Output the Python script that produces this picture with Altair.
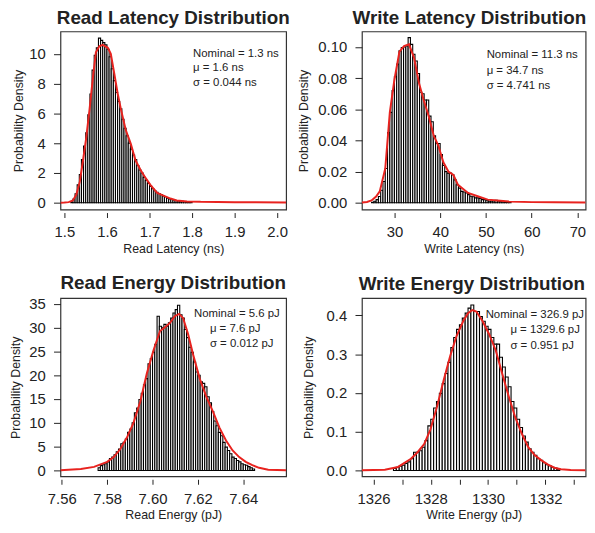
import altair as alt
import pandas as pd

FONT = "Liberation Sans"
INK = "#222222"
RED = "#e8231f"

# ---------------- data ----------------
# Read latency histogram (bin width 0.005 ns, first bin starts 1.515)
rl_start, rl_width = 1.515, 0.005
rl_heights = [0.05, 0.25, 0.6, 1.2, 1.9, 2.9, 3.8, 4.7, 5.9, 7.3, 8.9, 9.9, 10.4, 11.05,
              10.9, 10.75, 10.6, 10.3, 9.8, 9.0, 8.2, 7.4, 6.8, 6.3, 5.6, 5.0, 4.5, 4.0,
              3.6, 3.2, 2.9, 2.5, 2.2, 2.0, 1.7, 1.5, 1.3, 1.1, 0.95, 0.8, 0.7, 0.62,
              0.55, 0.45, 0.4, 0.3, 0.25, 0.22, 0.18, 0.15, 0.12, 0.1, 0.09, 0.08, 0.07,
              0.06, 0.05]
rl_curve_x = [1.4907, 1.50, 1.51, 1.52, 1.528, 1.536, 1.543, 1.551, 1.559, 1.567, 1.574,
              1.582, 1.590, 1.602, 1.609, 1.617, 1.625, 1.633, 1.644, 1.656, 1.667, 1.679,
              1.691, 1.702, 1.718, 1.733, 1.749, 1.764, 1.788, 1.82, 1.86, 1.90, 1.95, 2.021]
rl_curve_y = [0.0, 0.01, 0.04, 0.15, 0.55, 1.4, 2.7, 4.3, 6.25, 8.4, 10.1, 10.5, 10.6, 10.4,
              10.0, 8.7, 7.35, 6.25, 4.9, 3.95, 2.85, 2.2, 1.65, 1.2, 0.66, 0.48, 0.28, 0.15,
              0.09, 0.06, 0.05, 0.04, 0.03, 0.02]

# Write latency histogram (bin width 0.5 ns, first bin starts 25.0)
wl_start, wl_width = 25.0, 0.5
wl_heights = [0.0003, 0.001, 0.002, 0.004, 0.008, 0.0136, 0.022, 0.045, 0.058, 0.072,
              0.081, 0.089, 0.0975, 0.0996, 0.100, 0.1006, 0.106, 0.1017, 0.0954, 0.091,
              0.083, 0.071, 0.070, 0.066, 0.066, 0.0556, 0.052, 0.043, 0.038, 0.038,
              0.031, 0.024, 0.020, 0.019, 0.019, 0.018, 0.0147, 0.0115, 0.0094, 0.0073,
              0.0069, 0.0063, 0.0052, 0.0042, 0.0038, 0.0031, 0.0031, 0.0027, 0.002, 0.002,
              0.0017, 0.001, 0.001, 0.0012, 0.0015, 0.001, 0.0008, 0.0008, 0.0006, 0.0006,
              0.0005]
wl_curve_x = [22.9, 24, 25, 26, 26.8, 28.0, 29.0, 30.0, 31.1, 32.1, 33.2, 34.3, 35.4, 36.4,
              37.5, 38.6, 39.6, 40.7, 41.8, 42.9, 43.9, 46.1, 48.2, 50.4, 52.5, 55, 60, 65,
              71.8]
wl_curve_y = [0.0002, 0.0005, 0.0015, 0.004, 0.0073, 0.022, 0.058, 0.079, 0.097, 0.1006,
              0.1017, 0.093, 0.0765, 0.066, 0.0556, 0.043, 0.0367, 0.026, 0.020, 0.0178,
              0.0115, 0.0063, 0.0042, 0.002, 0.0015, 0.0008, 0.0004, 0.0003, 0.0002]

# Read energy histogram (bin width 0.001 pJ, first bin starts 7.576)
re_start, re_width = 7.576, 0.001
re_heights = [0.55, 1.0, 1.2, 1.4, 1.8, 2.5, 2.8, 3.3, 3.9, 4.5, 5.6, 5.9, 6.6, 8.0, 8.7,
              10.0, 12.1, 13.1, 14.9, 16.2, 18.0, 19.3, 22.4, 23.5, 24.8, 26.5, 32.4, 30.3,
              30.0, 30.7, 30.3, 31.0, 32.0, 33.1, 33.8, 34.7, 32.7, 32.0, 29.6, 27.9, 25.9,
              24.8, 22.8, 20.7, 20.0, 18.6, 18.3, 17.6, 15.5, 14.2, 12.4, 10.4, 9.4, 8.0,
              7.3, 5.9, 4.9, 4.2, 3.5, 2.8, 2.5, 2.1, 1.8, 1.4, 1.2, 1.1, 0.8, 0.55, 0.3]
re_curve_x = [7.5594, 7.5684, 7.5742, 7.580, 7.5829, 7.5858, 7.5887, 7.5916, 7.5946, 7.5975,
              7.6004, 7.6033, 7.6055, 7.6077, 7.6098, 7.6117, 7.6135, 7.6157, 7.6178, 7.6208,
              7.6237, 7.6266, 7.6295, 7.6324, 7.6353, 7.6382, 7.6411, 7.6440, 7.647, 7.651,
              7.6589]
re_curve_y = [0.05, 0.3, 0.75, 1.8, 2.8, 4.5, 6.9, 10.0, 14.5, 20.4, 25.2, 29.3, 30.1, 31.0,
              32.4, 32.9, 32.0, 28.6, 24.5, 19.3, 15.5, 12.4, 9.0, 6.3, 4.2, 2.8, 1.8, 1.1,
              0.55, 0.15, 0.03]

# Write energy histogram (bin width 0.1 pJ, first bin starts 1326.7)
we_start, we_width = 1326.7, 0.1
we_heights = [0.005, 0.008, 0.011, 0.0135, 0.018, 0.022, 0.030, 0.047, 0.047, 0.051, 0.060,
              0.077, 0.115, 0.132, 0.161, 0.178, 0.199, 0.224, 0.250, 0.279, 0.317, 0.343,
              0.364, 0.376, 0.393, 0.406, 0.419, 0.427, 0.410, 0.410, 0.397, 0.385, 0.372,
              0.364, 0.343, 0.326, 0.326, 0.292, 0.267, 0.241, 0.216, 0.178, 0.161, 0.132,
              0.111, 0.089, 0.073, 0.056, 0.047, 0.039, 0.030, 0.026, 0.020, 0.015, 0.012,
              0.008, 0.006, 0.003]
we_curve_x = [1325.6, 1326.40, 1326.86, 1327.31, 1327.54, 1327.77, 1327.99, 1328.22, 1328.45,
              1328.68, 1328.90, 1329.13, 1329.30, 1329.45, 1329.59, 1329.81, 1330.04, 1330.27,
              1330.49, 1330.72, 1330.95, 1331.18, 1331.40, 1331.63, 1331.86, 1332.09, 1332.31,
              1332.54, 1332.88, 1333.4]
we_curve_y = [0.0005, 0.002, 0.009, 0.030, 0.047, 0.068, 0.106, 0.165, 0.233, 0.296, 0.347,
              0.385, 0.406, 0.414, 0.410, 0.385, 0.351, 0.309, 0.250, 0.191, 0.136, 0.094,
              0.060, 0.039, 0.026, 0.015, 0.007, 0.003, 0.001, 0.0003]

H = 180


def panel(start, width, heights, cx, cy, xdom, ydom, xticks, yticks, xfmt, yfmt,
          title, xtitle, notes, ytitle_gap, pw, title_dx=0, xlabel_expr=None):
    hist = pd.DataFrame({
        "x0": [start + i * width for i in range(len(heights))],
        "h": heights,
    })
    hist["x1"] = hist["x0"] + width
    curve = pd.DataFrame({"x": cx, "y": cy})

    xscale = alt.Scale(domain=xdom, nice=False, zero=False)
    yscale = alt.Scale(domain=ydom, nice=False, zero=False)
    xaxis_kw = dict(values=xticks, format=xfmt, domain=False, grid=False, offset=3,
                    tickSize=5, tickColor=INK, tickWidth=1, labelFontSize=15,
                    labelFont=FONT, labelColor=INK, labelPadding=7.5, labelFlush=False,
                    labelOverlap=False, title=xtitle, titleFont=FONT, titleFontSize=12.5,
                    titleFontWeight="normal", titleColor=INK, titlePadding=2.5)
    if xlabel_expr:
        xaxis_kw["labelExpr"] = xlabel_expr
    xaxis = alt.Axis(**xaxis_kw)
    yaxis = alt.Axis(values=yticks, format=yfmt, domain=False, grid=False, offset=0,
                     tickSize=7, tickColor=INK, tickWidth=1, labelFontSize=15,
                     labelFont=FONT, labelColor=INK, labelPadding=8.4, labelFlush=False,
                     labelOverlap=False, title="Probability Density", titleFont=FONT,
                     titleFontSize=12.5, titleFontWeight="normal", titleColor=INK,
                     titlePadding=0, minExtent=ytitle_gap, maxExtent=ytitle_gap)

    bars = alt.Chart(hist).mark_rect(fill="white", stroke="#000000", strokeWidth=1.1,
                                     clip=True).encode(
        x=alt.X("x0:Q", scale=xscale, axis=xaxis),
        x2="x1:Q",
        y=alt.Y("h:Q", scale=yscale, axis=yaxis),
        y2=alt.datum(0),
    )
    line = alt.Chart(curve).mark_line(color=RED, strokeWidth=2, clip=True).encode(
        x=alt.X("x:Q", scale=xscale, axis=xaxis),
        y=alt.Y("y:Q", scale=yscale, axis=yaxis))
    one = alt.Data(values=[{}])
    texts = []
    for txt, px, py in notes:
        texts.append(alt.Chart(one).mark_text(
            align="left", baseline="middle", font=FONT, fontSize=11.5, color=INK
        ).encode(x=alt.value(px), y=alt.value(py), text=alt.value(txt)))
    return alt.layer(bars, line, *texts).properties(
        width=pw, height=H,
        title=alt.TitleParams(title, font=FONT, fontSize=19, fontWeight="bold",
                              color=INK, anchor="middle", offset=4, dx=title_dx))


p1 = panel(rl_start, rl_width, rl_heights, rl_curve_x, rl_curve_y,
           [1.4907, 2.021], [-0.46, 11.5], [1.5, 1.6, 1.7, 1.8, 1.9, 2.0],
           [0, 2, 4, 6, 8, 10], ".1f", "d", "Read Latency Distribution",
           "Read Latency (ns)",
           [("Nominal = 1.3 ns", 134, 23), ("μ = 1.6 ns", 134, 37),
            ("σ = 0.044 ns", 134, 52)], 35.7, 228)
p2 = panel(wl_start, wl_width, wl_heights, wl_curve_x, wl_curve_y,
           [22.9, 71.8], [-0.0044, 0.110], [30, 40, 50, 60, 70],
           [0.0, 0.02, 0.04, 0.06, 0.08, 0.10], "d", ".2f", "Write Latency Distribution",
           "Write Latency (ns)",
           [("Nominal = 11.3 ns", 126, 24), ("μ = 34.7 ns", 126, 39.5),
            ("σ = 4.741 ns", 126, 55)], 51.7, 226, title_dx=-4.5)
p3 = panel(re_start, re_width, re_heights, re_curve_x, re_curve_y,
           [7.5594, 7.6589], [-1.24, 36.2], [7.56, 7.58, 7.60, 7.62, 7.64],
           [0, 5, 10, 15, 20, 25, 30, 35], ".2f", "d", "Read Energy Distribution",
           "Read Energy (pJ)",
           [("Nominal = 5.6 pJ", 135, 16), ("μ = 7.6 pJ", 151, 31),
            ("σ = 0.012 pJ", 151, 46)], 38.5, 228)
p4 = panel(we_start, we_width, we_heights, we_curve_x, we_curve_y,
           [1325.6, 1333.4], [-0.0152, 0.4446],
           [1326, 1327, 1328, 1329, 1330, 1331, 1332, 1333],
           [0.0, 0.1, 0.2, 0.3, 0.4], "d", ".1f", "Write Energy Distribution",
           "Write Energy (pJ)",
           [("Nominal = 326.9 pJ", 125, 17.5), ("μ = 1329.6 pJ", 150, 32.5),
            ("σ = 0.951 pJ", 150, 48)], 47.4, 226, title_dx=-2,
           xlabel_expr="datum.value % 2 == 0 ? format(datum.value, 'd') : ''")

chart = alt.concat(
    p1, p2, p3, p4, columns=2, spacing={"row": 17.5, "column": 5.6},
).properties(padding={"left": 0, "top": -3, "right": 0, "bottom": 0}).configure_view(
    stroke="#333333", strokeWidth=1.2)

chart.save("out.html", embed_options={"renderer": "svg", "actions": False})
